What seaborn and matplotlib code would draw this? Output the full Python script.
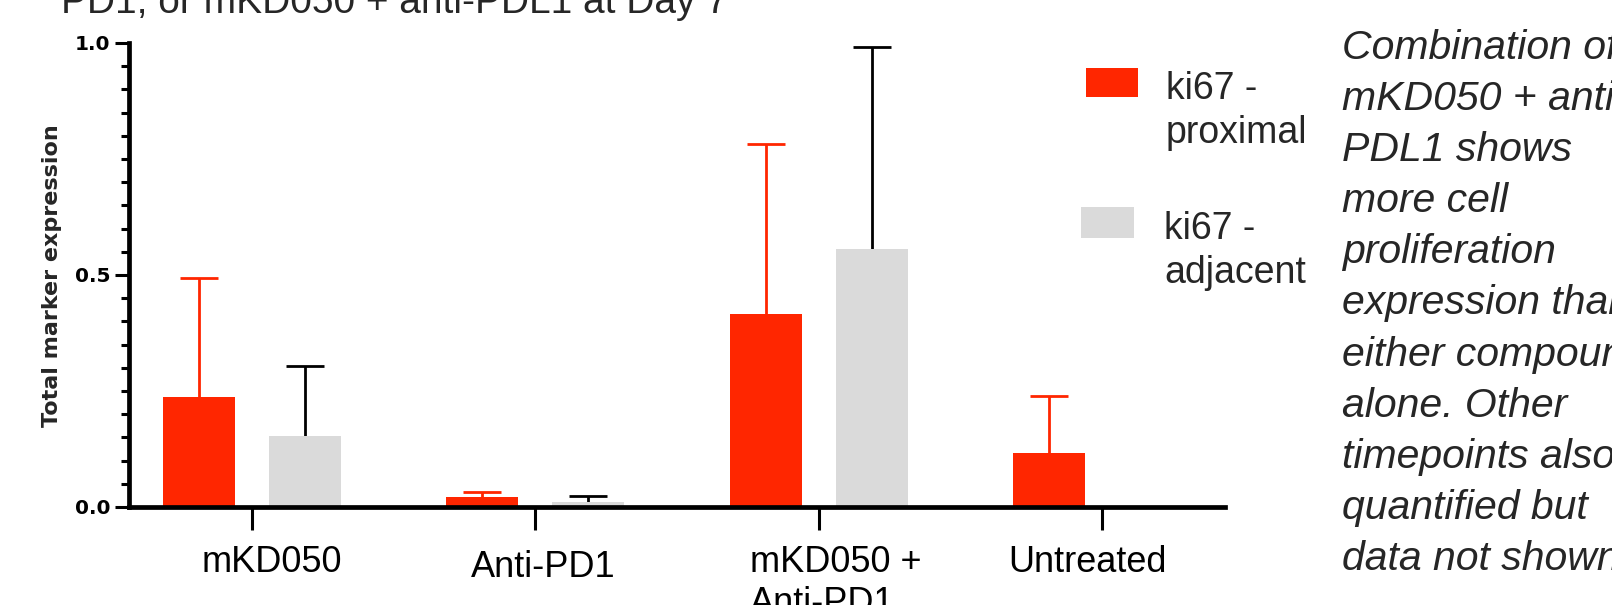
import numpy as np
import pandas as pd
import matplotlib.pyplot as plt
import seaborn as sns
from matplotlib.patches import Rectangle
from matplotlib.ticker import MultipleLocator
from matplotlib.transforms import ScaledTranslation

# Data
groups = ["mKD050", "Anti-PD1", "mKD050 +\nAnti-PD1", "Untreated"]
series = ["ki67 - proximal", "ki67 - adjacent"]
legend_labels = ["ki67 -\nproximal", "ki67 -\nadjacent"]
proximal_mean = [0.237, 0.022, 0.416, 0.116]
proximal_sd = [0.256, 0.011, 0.366, 0.123]
adjacent_mean = [0.153, 0.011, 0.556, np.nan]
adjacent_sd = [0.151, 0.012, 0.435, np.nan]
y_ticks = [0.0, 0.5, 1.0]
y_label = "Total marker expression"
title_text = "PD1, or mKD050 + anti-PDL1 at Day 7"
note_lines = [
    "Combination of",
    "mKD050 + anti-",
    "PDL1 shows",
    "more cell",
    "proliferation",
    "expression than",
    "either compound",
    "alone. Other",
    "timepoints also",
    "quantified but",
    "data not shown.",
]

RED = "#FF2600"
GRAY = "#DADADA"
bar_colors = [RED, GRAY]
err_colors = [RED, "black"]

W, H = 1612, 605

sns.set_theme(style="ticks")
plt.rcParams["font.family"] = ["Liberation Sans", "DejaVu Sans"]

fig = plt.figure(figsize=(W / 100, H / 100), dpi=100)
ax = fig.add_axes([128.5 / W, 1 - 507 / H, 1096.5 / W, 464 / H])

df = pd.DataFrame({
    "Group": groups * 2,
    "Series": [series[0]] * len(groups) + [series[1]] * len(groups),
    "Value": proximal_mean + adjacent_mean,
})

sns.barplot(
    data=df, x="Group", y="Value", hue="Series",
    order=groups, hue_order=series, palette=bar_colors,
    width=0.748, gap=0.32, errorbar=None, saturation=1,
    linewidth=0, legend=False, ax=ax,
)

# Error bars (drawn behind the bars, clipped at zero like Prism)
means = [proximal_mean, adjacent_mean]
sds = [proximal_sd, adjacent_sd]
bar_containers = list(ax.containers)
for k, container in enumerate(bar_containers):
    for bar in container:
        xc = bar.get_x() + bar.get_width() / 2
        i = int(round(xc))
        m, s = means[k][i], sds[k][i]
        if np.isnan(m):
            continue
        ax.errorbar(xc, m, yerr=[[min(s, m)], [s]], fmt="none",
                    ecolor=err_colors[k], elinewidth=2.0, capsize=13.5,
                    capthick=2.0, zorder=0.9, clip_on=False)

ax.set_xlim(-0.436, 3.434)
ax.set_ylim(0, 1.0)
ax.set_yticks(y_ticks, labels=[f"{v:.1f}" for v in y_ticks])
ax.yaxis.set_minor_locator(MultipleLocator(0.05))
ax.set_xlabel("")
ax.set_ylabel(y_label, fontsize=16, fontweight="bold", family="DejaVu Sans")
ax.yaxis.set_label_coords(-76.5 / 1096.5, 0.498)
ax.yaxis.label.set_va("center")

sns.despine(ax=ax)
for side in ["left", "bottom"]:
    ax.spines[side].set_linewidth(3.4)
    ax.spines[side].set_color("black")
    ax.spines[side].set_capstyle("projecting")

ax.tick_params(axis="x", bottom=True, direction="out", length=16.5, width=2.2,
               pad=11, labelsize=26, color="black", labelcolor="black")
ax.tick_params(axis="y", which="major", left=True, direction="out", length=10,
               width=2.2, pad=3, labelsize=14.5, color="black", labelcolor="black")
ax.tick_params(axis="y", which="minor", left=True, direction="out", length=6,
               width=2.2, color="black")
for lab in ax.get_yticklabels():
    lab.set_fontweight("bold")
    lab.set_family("DejaVu Sans")

# the category labels were nudged by hand on the slide
label_shift_px = [(20, 0), (8, -5), (17, 0), (-15, 0)]
for lab, (dx, dy) in zip(ax.get_xticklabels(), label_shift_px):
    lab.set_multialignment("left")
    lab.set_transform(lab.get_transform()
                      + ScaledTranslation(dx / 100, dy / 100, fig.dpi_scale_trans))

# Legend, built by hand so the swatch sits beside the first label line
legend_boxes = [(1086, 68, 52, 29), (1081, 207, 53, 31)]
legend_text_pos = [(1166, 111), (1164, 251)]
for k in range(len(series)):
    x0, y0, w, h = legend_boxes[k]
    fig.add_artist(Rectangle((x0 / W, 1 - (y0 + h) / H), w / W, h / H,
                             transform=fig.transFigure, facecolor=bar_colors[k],
                             edgecolor="none"))
    tx, ty = legend_text_pos[k]
    fig.text(tx / W, 1 - ty / H, legend_labels[k], fontsize=27, va="center",
             ha="left", linespacing=1.3)

# Slide title (cut off at the top) and side note (cut off at the right)
fig.text(61 / W, 1 - 13 / H, title_text, fontsize=28, va="baseline", ha="left")
for j, line in enumerate(note_lines):
    fig.text(1342 / W, 1 - (48 + 51.1 * j) / H, line, fontsize=29.5,
             style="italic", va="center", ha="left")

fig.savefig("out.png", dpi=100)
